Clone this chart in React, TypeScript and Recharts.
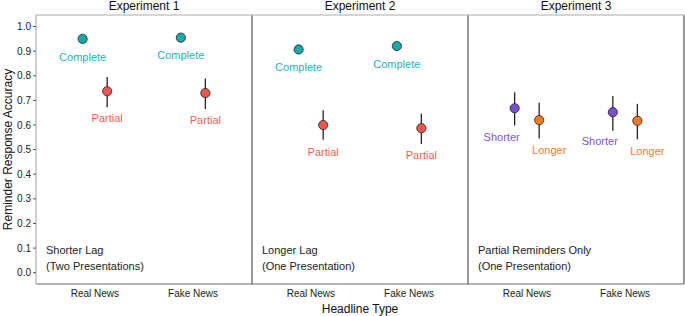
import React from 'react';
import {
  ScatterChart,
  Scatter,
  XAxis,
  YAxis,
  ErrorBar,
  ReferenceLine,
  ReferenceDot,
} from 'recharts';

const newsTypes = ['Real News', 'Fake News'];
const experiments = ['Experiment 1', 'Experiment 2', 'Experiment 3'];
const panelNotes = [
  ['Shorter Lag', '(Two Presentations)'],
  ['Longer Lag', '(One Presentation)'],
  ['Partial Reminders Only', '(One Presentation)'],
];
const yTicks = [0, 0.1, 0.2, 0.3, 0.4, 0.5, 0.6, 0.7, 0.8, 0.9, 1.0];

// Experiment 1 (Real, Fake)
const exp1Complete = [0.95, 0.955];
const exp1CompleteLow = [0.936, 0.942];
const exp1CompleteHigh = [0.962, 0.966];
const exp1Partial = [0.737, 0.73];
const exp1PartialLow = [0.672, 0.665];
const exp1PartialHigh = [0.795, 0.789];

// Experiment 2
const exp2Complete = [0.907, 0.921];
const exp2CompleteLow = [0.893, 0.908];
const exp2CompleteHigh = [0.92, 0.932];
const exp2Partial = [0.6, 0.587];
const exp2PartialLow = [0.54, 0.523];
const exp2PartialHigh = [0.66, 0.646];

// Experiment 3
const exp3Shorter = [0.668, 0.652];
const exp3ShorterLow = [0.598, 0.577];
const exp3ShorterHigh = [0.733, 0.718];
const exp3Longer = [0.62, 0.617];
const exp3LongerLow = [0.545, 0.542];
const exp3LongerHigh = [0.69, 0.686];

const PANEL_SPAN = 2.2;
const DODGE = 0.125;
const FONT = '"Liberation Sans", Arial, Helvetica, sans-serif';

const points = (panel: number, values: number[], low: number[], high: number[], dodge: number) =>
  values.map((v, i) => ({
    x: 1 + panel * PANEL_SPAN + i + dodge,
    y: v,
    err: [v - low[i], high[i] - v],
  }));

const series = [
  {
    name: 'Complete',
    fill: '#17A9AD',
    text: '#1DB4B8',
    dx: 0,
    dy: 18,
    data: [
      ...points(0, exp1Complete, exp1CompleteLow, exp1CompleteHigh, -DODGE),
      ...points(1, exp2Complete, exp2CompleteLow, exp2CompleteHigh, -DODGE),
    ],
  },
  {
    name: 'Partial',
    fill: '#F2554D',
    text: '#F25F58',
    dx: 0,
    dy: 27,
    data: [
      ...points(0, exp1Partial, exp1PartialLow, exp1PartialHigh, DODGE),
      ...points(1, exp2Partial, exp2PartialLow, exp2PartialHigh, DODGE),
    ],
  },
  {
    name: 'Shorter',
    fill: '#7A4FD8',
    text: '#7F55E0',
    dx: -13,
    dy: 29,
    data: points(2, exp3Shorter, exp3ShorterLow, exp3ShorterHigh, -DODGE),
  },
  {
    name: 'Longer',
    fill: '#F47A1F',
    text: '#F47A1F',
    dx: 10,
    dy: 30,
    data: points(2, exp3Longer, exp3LongerLow, exp3LongerHigh, DODGE),
  },
];

const bottomTicks = [0, 1, 2].flatMap((p) => [1 + p * PANEL_SPAN, 2 + p * PANEL_SPAN]);
const topTicks = [0, 1, 2].map((p) => 1.5 + p * PANEL_SPAN);
const xDomain = [0.4, 0.4 + 3 * PANEL_SPAN];

const tickName = (v: number) => {
  const idx = bottomTicks.findIndex((t) => Math.abs(t - v) < 1e-6);
  return newsTypes[idx % 2];
};
const expName = (v: number) => {
  const idx = topTicks.findIndex((t) => Math.abs(t - v) < 1e-6);
  return experiments[idx];
};

const makeShape = (s: (typeof series)[number]) => (props: any) => {
  const { cx, cy } = props;
  return (
    <g>
      <circle cx={cx} cy={cy} r={4.6} fill={s.fill} stroke="#222" strokeWidth={0.8} />
      <text
        x={cx + s.dx}
        y={cy + s.dy}
        dy="0.35em"
        textAnchor="middle"
        fontSize={11}
        fontFamily={FONT}
        fill={s.text}
      >
        {s.name}
      </text>
    </g>
  );
};

const NoteLabel = (lines: string[]) => (props: any) => {
  const { viewBox } = props;
  return (
    <text fontSize={11} fontFamily={FONT} fill="#222">
      <tspan x={viewBox.x + 10} y={viewBox.y + 6}>
        {lines[0]}
      </tspan>
      <tspan x={viewBox.x + 10} y={viewBox.y + 21.5}>
        {lines[1]}
      </tspan>
    </text>
  );
};

export default function App() {
  return (
    <div style={{ position: 'fixed', left: 0, top: 0, width: 685, height: 316, background: '#fff' }}>
      <ScatterChart width={685} height={316} margin={{ top: 0, right: 1, bottom: 0, left: 0 }}>
        <XAxis
          xAxisId="top"
          orientation="top"
          type="number"
          dataKey="x"
          domain={xDomain}
          ticks={topTicks}
          tickFormatter={expName}
          allowDataOverflow
          height={15}
          tickLine={false}
          tickSize={0}
          tickMargin={5}
          axisLine={{ stroke: '#ababab' }}
          tick={{ fontSize: 12, fill: '#111', fontFamily: FONT }}
        />
        <XAxis
          xAxisId="bottom"
          type="number"
          dataKey="x"
          domain={xDomain}
          ticks={bottomTicks}
          tickFormatter={tickName}
          allowDataOverflow
          height={32}
          tickLine={false}
          tickSize={0}
          tickMargin={6}
          axisLine={{ stroke: '#666' }}
          tick={{ fontSize: 10, fill: '#222', fontFamily: FONT }}
          label={{
            value: 'Headline Type',
            position: 'insideBottom',
            offset: 3,
            style: { fontSize: 12, fill: '#111', fontFamily: FONT },
          }}
        />
        <YAxis
          type="number"
          dataKey="y"
          domain={[-0.046, 1.047]}
          ticks={yTicks}
          tickFormatter={(v: number) => v.toFixed(1)}
          allowDataOverflow
          width={36}
          tickSize={3}
          tickMargin={2}
          axisLine={{ stroke: '#a0a0a0' }}
          tickLine={{ stroke: '#555' }}
          tick={{ fontSize: 10, fill: '#222', fontFamily: FONT }}
          label={{
            value: 'Reminder Response Accuracy',
            angle: -90,
            position: 'insideLeft',
            offset: 8,
            style: { fontSize: 12, fill: '#111', fontFamily: FONT, textAnchor: 'middle' },
          }}
        />
        {[1, 2, 3].map((p) => (
          <ReferenceLine
            key={`sep-${p}`}
            xAxisId="bottom"
            x={0.4 + p * PANEL_SPAN}
            stroke="#333"
            strokeWidth={1}
          />
        ))}
        {panelNotes.map((lines, p) => (
          <ReferenceDot
            key={`note-${p}`}
            xAxisId="bottom"
            x={0.4 + p * PANEL_SPAN}
            y={0.1}
            r={0}
            fill="none"
            stroke="none"
            label={{ content: NoteLabel(lines) }}
          />
        ))}
        {series.map((s) => (
          <Scatter
            key={s.name}
            xAxisId="bottom"
            data={s.data}
            isAnimationActive={false}
            shape={makeShape(s)}
          >
            <ErrorBar dataKey="err" direction="y" width={0} stroke="#222" strokeWidth={1.3} />
          </Scatter>
        ))}
      </ScatterChart>
    </div>
  );
}
